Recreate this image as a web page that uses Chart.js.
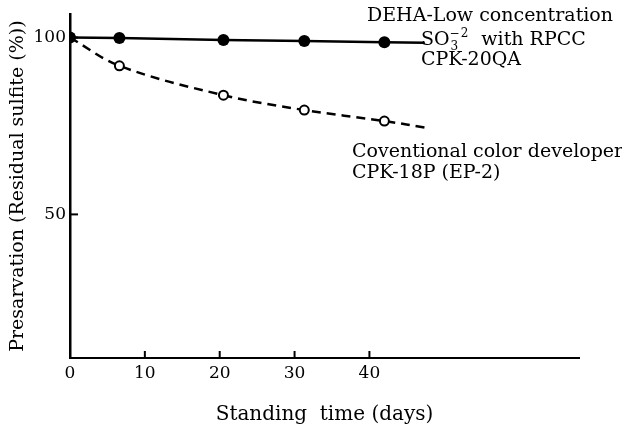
<!DOCTYPE html>
<html>
<head>
<meta charset="utf-8">
<script src="https://cdn.jsdelivr.net/npm/chart.js@4.4.0/dist/chart.umd.min.js"></script>
<style>
  html, body { margin: 0; padding: 0; background: #fff; }
  #wrap { width: 622px; height: 429px; }
</style>
</head>
<body>
<div id="wrap"><canvas id="grafiek"></canvas></div>
<script>
// waarden
const dehaDays = [0, 6.6, 20.5, 31.3, 42, 47.4];
const dehaValues = [100, 99.9, 99.3, 99.0, 98.7, 98.5];
const convDays = [0, 6.6, 20.5, 31.3, 42, 47.9];
const convValues = [100, 92.0, 83.7, 79.5, 76.4, 74.4];
const xTicks = [0, 10, 20, 30, 40];
const yTicks = [50, 100];
const xTitle = 'Standing  time (days)';
const yTitle = 'Presarvation (Residual sulfite (%))';

const serif = '"DejaVu Serif", "Liberation Serif", serif';

// punten samenvoegen tot {x, y}
function toPoints(days, values) {
  const pts = [];
  for (let i = 0; i < days.length; i++) {
    pts.push({ x: days[i], y: values[i] });
  }
  return pts;
}

// kleine streepjes naar binnen en de teksten bij de lijnen
const extraPlugin = {
  id: 'extra',
  afterDraw(chart) {
    const ctx = chart.ctx;
    const xs = chart.scales.x;
    const ys = chart.scales.y;
    ctx.save();
    ctx.strokeStyle = '#000';
    ctx.lineWidth = 2;
    xTicks.forEach(v => {
      if (v === 0) return;
      const px = xs.getPixelForValue(v);
      ctx.beginPath();
      ctx.moveTo(px, ys.bottom);
      ctx.lineTo(px, ys.bottom - 7);
      ctx.stroke();
    });
    yTicks.forEach(v => {
      const py = ys.getPixelForValue(v);
      ctx.beginPath();
      ctx.moveTo(xs.left, py);
      ctx.lineTo(xs.left + 8, py);
      ctx.stroke();
    });

    ctx.fillStyle = '#000';
    ctx.textBaseline = 'alphabetic';
    ctx.textAlign = 'left';
    ctx.font = '19px ' + serif;
    ctx.fillText('DEHA-Low concentration', 367, 21);
    let x = 421;
    ctx.fillText('SO', x, 45);
    x += ctx.measureText('SO').width;
    ctx.font = '12px ' + serif;
    ctx.fillText('3', x + 1, 50);
    ctx.fillText('\u2212', x, 37);
    const wm = ctx.measureText('\u2212').width;
    ctx.fillText('2', x + wm + 1, 37);
    x += wm + ctx.measureText('2').width + 2;
    ctx.font = '19px ' + serif;
    ctx.fillText('  with RPCC', x, 45);
    ctx.fillText('CPK-20QA', 421, 65);
    ctx.fillText('Coventional color developer', 352, 157);
    ctx.fillText('CPK-18P (EP-2)', 352, 178);
    ctx.restore();
  }
};

new Chart(document.getElementById('grafiek'), {
  type: 'line',
  data: {
    datasets: [
      {
        label: 'DEHA',
        data: toPoints(dehaDays, dehaValues),
        borderColor: '#000',
        borderWidth: 2.5,
        backgroundColor: '#000',
        pointRadius: [6, 6, 6, 6, 6, 0],
        pointBorderWidth: 0,
        tension: 0
      },
      {
        label: 'Conventional',
        data: toPoints(convDays, convValues),
        borderColor: '#000',
        borderWidth: 2.5,
        borderDash: [9, 6],
        backgroundColor: '#fff',
        pointBackgroundColor: '#fff',
        pointBorderColor: '#000',
        pointBorderWidth: 2,
        pointRadius: [0, 4.5, 4.5, 4.5, 4.5, 0],
        tension: 0.35
      }
    ]
  },
  options: {
    responsive: true,
    maintainAspectRatio: false,
    animation: false,
    layout: { padding: { top: 10, right: 43, left: 0, bottom: 0 } },
    plugins: {
      legend: { display: false },
      tooltip: { enabled: false }
    },
    scales: {
      x: {
        type: 'linear',
        min: 0,
        max: 68,
        afterFit: axis => { axis.height = 71; },
        afterBuildTicks: axis => { axis.ticks = xTicks.map(v => ({ value: v })); },
        grid: { display: false, drawTicks: false },
        border: { display: true, color: '#000', width: 2 },
        ticks: {
          color: '#000',
          padding: 5,
          maxRotation: 0,
          autoSkip: false,
          font: { family: serif, size: 17 }
        },
        title: {
          display: true,
          text: xTitle,
          color: '#000',
          font: { family: serif, size: 20 },
          padding: { top: 0, bottom: 2 }
        }
      },
      y: {
        min: 9.4,
        max: 106.6,
        afterFit: axis => { axis.width = 70; },
        afterBuildTicks: axis => { axis.ticks = yTicks.map(v => ({ value: v })); },
        grid: { display: false, drawTicks: false },
        border: { display: true, color: '#000', width: 2.5 },
        ticks: {
          color: '#000',
          padding: 4,
          autoSkip: false,
          font: { family: serif, size: 17 }
        },
        title: {
          display: true,
          text: yTitle,
          color: '#000',
          font: { family: serif, size: 19 },
          padding: { top: 7, bottom: 0 }
        }
      }
    }
  },
  plugins: [extraPlugin]
});
</script>
</body>
</html>
